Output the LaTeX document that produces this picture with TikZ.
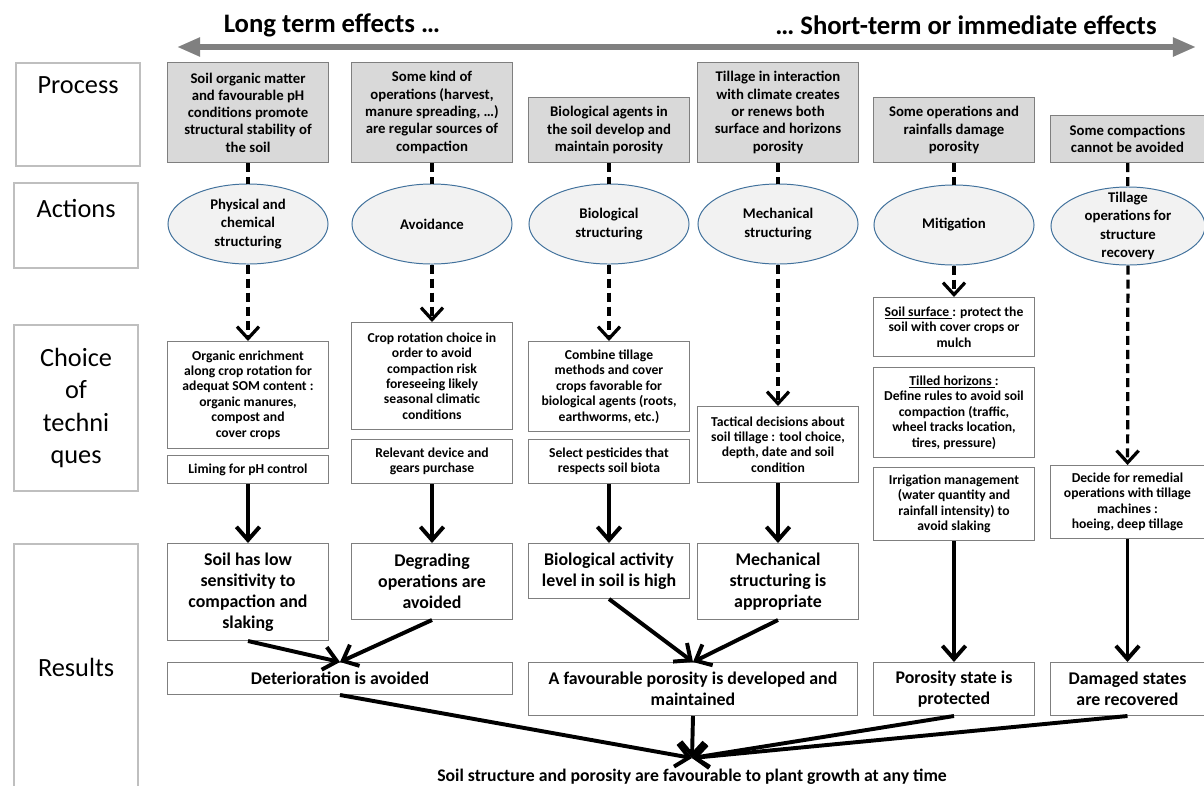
\documentclass[tikz,border=0pt]{standalone}
\usepackage{fontspec}
\setmainfont{Carlito}
\usetikzlibrary{shapes.geometric,arrows.meta,positioning,shadows}
\definecolor{procgray}{RGB}{217,217,217}
\definecolor{edgegray}{RGB}{127,127,127}
\definecolor{lblgray}{RGB}{191,191,191}
\definecolor{ellfill}{RGB}{242,242,242}
\definecolor{ellblue}{RGB}{65,113,156}
\definecolor{headgray}{RGB}{128,128,128}

\begin{document}
\begin{tikzpicture}[
    x=0.025cm, y=-0.025cm,
    lbl/.style={rectangle, draw=lblgray, line width=1.5pt, fill=white, minimum width=3.1cm, align=center, font=\fontsize{18.7}{23}\selectfont, drop shadow={opacity=0.3, shadow xshift=0.8pt, shadow yshift=-0.8pt}},
    lbltext/.style={font=\fontsize{18.7}{23}\selectfont, inner sep=0pt},
    proc/.style={rectangle, draw=edgegray, line width=0.7pt, fill=procgray, minimum width=4cm, align=center, inner sep=2pt, font=\fontsize{10.5}{12.3}\selectfont\bfseries},
    act/.style={ellipse, draw=ellblue, line width=0.7pt, fill=ellfill, minimum width=4cm, minimum height=2cm, align=center, inner sep=0pt, font=\fontsize{10.5}{13}\selectfont\bfseries},
    tech/.style={rectangle, draw=edgegray, line width=0.7pt, fill=white, minimum width=4cm, align=center, inner sep=2pt, font=\fontsize{9.7}{11}\selectfont\bfseries},
    res/.style={rectangle, draw=edgegray, line width=0.7pt, fill=white, minimum width=4cm, align=center, inner sep=2pt, font=\fontsize{12.7}{15}\selectfont\bfseries},
    link/.style={line width=2.3pt, dash pattern=on 6.5pt off 3.5pt},
    dlink/.style={link, -{Straight Barb[length=0.3cm,width=0.55cm]}},
    flow/.style={line width=2.8pt, -{Straight Barb[length=0.33cm,width=0.58cm]}}
]
    \useasboundingbox (0,0) rectangle (1204,785);

    % Time axis
    \coordinate (west) at (177,47);
    \coordinate (east) at (1196,47);
    \draw[headgray, line width=4pt, {Triangle[length=0.58cm,width=0.45cm]}-{Triangle[length=0.58cm,width=0.45cm]}] (west) -- (east);
    \node[font=\fontsize{19}{22}\selectfont\bfseries] (longterm) at (332,25) {Long term effects …};
    \node[font=\fontsize{19}{22}\selectfont\bfseries] (shortterm) at (966,25) {… Short-term or immediate effects};

    % Row labels
    \node[lbl, anchor=north west, minimum height=2.575cm] (lp) at (15,62) {};
    \node[lbltext, below=0.37cm of lp.north] (lptext) {Process};
    \node[lbl, anchor=north west, minimum height=2.125cm] (la) at (13,182) {};
    \node[lbltext, below=0.42cm of la.north] (latext) {Actions};
    \node[lbl, anchor=north west, minimum height=4.15cm] (lc) at (13,324) {Choice\\of\\techni\\ques};
    \node[lbl, anchor=north west, minimum height=6.15cm] (lr) at (13,543) {Results};

    % Process
    \node[proc, anchor=south, minimum height=2.5cm] (p1) at (248,163) {Soil organic matter\\and favourable pH\\conditions promote\\structural stability of\\the soil};
    \node[proc, anchor=south, minimum height=2.5cm] (p2) at (432,163) {Some kind of\\operations (harvest,\\manure spreading, …)\\are regular sources of\\compaction};
    \node[proc, anchor=south, minimum height=1.625cm] (p3) at (609,163) {Biological agents in\\the soil develop and\\maintain porosity};
    \node[proc, anchor=south, minimum height=2.5cm] (p4) at (778,163) {Tillage in interaction\\with climate creates\\or renews both\\surface and horizons\\porosity};
    \node[proc, anchor=south, minimum height=1.625cm] (p5) at (954,163) {Some operations and\\rainfalls damage\\porosity};
    \node[proc, anchor=south, minimum height=1.175cm, minimum width=3.83cm] (p6) at (1127.5,163) {Some compactions\\cannot be avoided};

    % Actions
    \node[act] (a1) at (248,224) {Physical and\\chemical\\structuring};
    \node[act] (a2) at (432,224) {Avoidance};
    \node[act] (a3) at (609,224) {Biological\\structuring};
    \node[act] (a4) at (778,224) {Mechanical\\structuring};
    \node[act] (a5) at (954,225) {Mitigation};
    \node[act, inner ysep=-8pt, minimum width=3.85cm, minimum height=1.95cm] (a6) at (1128,226) {Tillage\\operations for\\structure\\recovery};

    % Choice of techniques
    \node[tech, anchor=north, minimum height=2.675cm] (t1) at (248,341) {Organic enrichment\\along crop rotation for\\adequat SOM content :\\organic manures,\\compost and\\cover crops};
    \node[tech, below=0.15cm of t1, minimum height=0.7cm] (t1b) {Liming for pH control};
    \node[tech, anchor=north, minimum height=2.675cm] (t2) at (432,322) {Crop rotation choice in\\order to avoid\\compaction risk\\foreseeing likely\\seasonal climatic\\conditions};
    \node[tech, below=0.225cm of t2, minimum height=1.1cm] (t2b) {Relevant device and\\gears purchase};
    \node[tech, anchor=north, minimum height=2.25cm] (t3) at (609,341) {Combine tillage\\methods and cover\\crops favorable for\\biological  agents (roots,\\earthworms, etc.)};
    \node[tech, below=0.175cm of t3, minimum height=1.1cm] (t3b) {Select pesticides that\\respects soil biota};
    \node[tech, anchor=north, minimum height=1.9cm] (t4) at (778,406) {Tactical decisions about\\soil tillage : tool choice,\\depth, date and soil\\condition};
    \node[tech, anchor=north, minimum height=1.475cm] (t5) at (954,297) {\underline{Soil surface }: protect the\\soil with  cover crops or\\mulch};
    \node[tech, below=0.25cm of t5, minimum height=2.25cm] (t5b) {\underline{Tilled horizons }:\\Define rules to avoid soil\\compaction (traffic,\\wheel tracks location,\\tires, pressure)};
    \node[tech, below=0.225cm of t5b, minimum height=1.825cm] (t5c) {Irrigation management\\(water quantity and\\rainfall intensity)  to\\avoid slaking};
    \node[tech, anchor=north, minimum height=1.825cm, minimum width=3.83cm] (t6) at (1127.5,465) {Decide for remedial\\operations  with tillage\\machines :\\hoeing, deep tillage};

    % Results
    \node[res, anchor=north, minimum height=2.425cm] (r1) at (248,543) {Soil has low\\sensitivity to\\compaction  and\\slaking};
    \node[res, anchor=north, minimum height=1.9cm] (r2) at (432,543) {Degrading\\operations are\\avoided};
    \node[res, anchor=north, minimum height=1.375cm] (r3) at (609,543) {Biological activity\\level in soil is high};
    \node[res, anchor=north, minimum height=1.9cm] (r4) at (778,543) {Mechanical\\structuring is\\appropriate};
    \node[res, anchor=north, minimum width=8.6cm, minimum height=0.8cm] (det) at (340,662) {Deterioration is avoided};
    \node[res, anchor=north, minimum width=8.2cm, minimum height=1.325cm] (fav) at (693,662) {A favourable porosity is developed and\\maintained};
    \node[res, anchor=north, minimum height=1.325cm] (prot) at (954,662) {Porosity state is\\protected};
    \node[res, anchor=north, minimum width=3.85cm, minimum height=1.325cm] (rec) at (1127.5,662) {Damaged states\\are recovered};

    % Overall goal
    \node[font=\fontsize{12.6}{14}\selectfont\bfseries] (goal) at (692,777) {Soil structure and porosity are favourable to plant growth at any time};
    \coordinate (hub) at (692,758);

    % Process to actions
    \draw[link] (p1) -- (a1);
    \draw[link] (p2) -- (a2);
    \draw[link] (p3) -- (a3);
    \draw[link] (p4) -- (a4);
    \draw[link] (p5) -- (a5);
    \draw[link] (p6) -- (a6);

    % Actions to techniques
    \draw[dlink] (a1) -- (t1);
    \draw[dlink] (a2) -- (t2);
    \draw[dlink] (a3) -- (t3);
    \draw[dlink] (a4) -- (t4);
    \draw[dlink] (a5) -- (t5);
    \draw[dlink] (a6) -- (t6);

    % Techniques to results
    \draw[flow] (t1b) -- (r1);
    \draw[flow] (t2b) -- (r2);
    \draw[flow] (t3b) -- (r3);
    \draw[flow] (t4) -- (r4);
    \draw[flow] (t5c) -- (prot);
    \draw[flow] (t6) -- (rec);
    \draw[flow] (r1.south) -- (det.north);
    \draw[flow] (r2.south) -- (det.north);
    \draw[flow] (r3.south) -- (fav.north);
    \draw[flow] (r4.south) -- (fav.north);

    % Towards the overall goal
    \draw[flow] (det.south) -- (hub);
    \draw[flow] (fav.south) -- (hub);
    \draw[flow] (prot.south) -- (hub);
    \draw[flow] (rec.south) -- (hub);
\end{tikzpicture}
\end{document}
